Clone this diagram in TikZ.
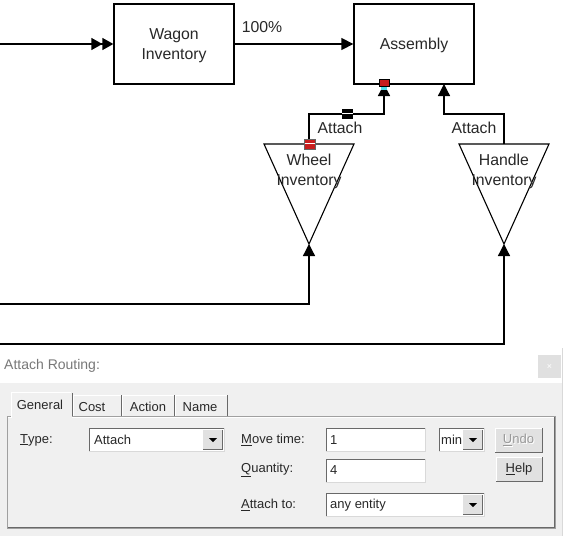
\documentclass[tikz,border=0pt]{standalone}
\usepackage{fontspec}
\setmainfont{Liberation Sans}
\usetikzlibrary{arrows.meta}
\definecolor{dlgbg}{RGB}{240,240,240}
\definecolor{btnbg}{RGB}{225,225,225}
\definecolor{edge}{RGB}{160,160,160}
\definecolor{dark}{RGB}{105,105,105}
\definecolor{titlegray}{RGB}{120,120,120}
\definecolor{mkred}{RGB}{200,30,30}
\definecolor{mkcyan}{RGB}{80,220,230}
\definecolor{txt}{RGB}{40,40,40}
\begin{document}
\begin{tikzpicture}[x=1pt,y=-1pt,
  dfont/.style={font=\fontsize{15.8}{20.5}\selectfont, text=txt},
  uifont/.style={font=\fontsize{13}{15}\selectfont, text=txt},
  box/.style={draw, line width=1.3pt, minimum width=120pt, minimum height=80pt, inner sep=0pt},
  conn/.style={line width=1.3pt},
  tip/.style={conn, -{Triangle[length=12pt,width=12pt]}},
  dbltip/.style={conn, -{Triangle[length=11pt,width=12pt]Triangle[length=11pt,width=12pt]}},
  inv/.style={draw, line width=1.1pt, line join=miter},
  lbl/.style={dfont, inner sep=0pt, align=center},
  ui/.style={uifont, inner sep=0pt, anchor=west},
]
\useasboundingbox (0,0) rectangle (563,536);
\fill[white] (0,0) rectangle (563,536);

% ---------- diagram ----------
\node[box] (wagon) at (174,44) {};
\node[box] (asm) at (414,44) {};
\node[lbl] (wagontxt) at (174,45.5) {Wagon\\Inventory};
\node[lbl] (asmtxt) at (414,45.5) {Assembly};
\coordinate (in1) at (0,44);
\draw[dbltip] (in1) -- (wagon.west);
\draw[tip] (wagon.east) -- (asm.west);
\node[lbl] (pct) at (262,27) {100\%};

% inventories (triangles)
\coordinate (wl) at (264,144); \coordinate (wr) at (354,144);
\coordinate (wtop) at (309,144); \coordinate (wapex) at (309,244);
\coordinate (hl) at (459,144); \coordinate (hr) at (549,144);
\coordinate (htop) at (504,144); \coordinate (hapex) at (504,244);
\draw[inv] (wl) -- (wr) -- (wapex) -- cycle;
\draw[inv] (hl) -- (hr) -- (hapex) -- cycle;
\node[lbl] (wheel) at (309,171.5) {Wheel\\Inventory};
\node[lbl] (handle) at (504,171.5) {Handle\\Inventory};

% attach routings
\coordinate (asmA) at (384,84); \coordinate (asmB) at (444,84);
\draw[tip] (wtop) |- (346,114) -| (asmA);
\draw[tip] (htop) |- (474,114) -| (asmB);
\node[lbl] (att1) at (340,128) {Attach};
\node[lbl] (att2) at (474,128) {Attach};

% inputs from the left
\coordinate (in2) at (0,304); \coordinate (in3) at (0,344);
\draw[tip] (in2) -| (wapex);
\draw[tip] (in3) -| (hapex);

% markers
\filldraw[fill=mkred, draw=black, line width=0.6pt] (379,79.5) rectangle (389,86.5);
\fill[mkcyan] (381,86.5) rectangle (387,90);
\filldraw[fill=mkred, draw=black!60, line width=0.6pt] (304,139) rectangle (315,149);
\draw[white, line width=0.8pt] (304.5,143.5) -- (314.5,143.5);
\fill[black] (342,108.5) rectangle (353,118.5);
\draw[white, line width=0.9pt] (342,113) -- (353,113);

% ---------- dialog ----------
\fill[white] (0,348) rectangle (563,383);
\fill[dlgbg] (0,383) rectangle (562,536);
\draw[black!15, line width=1pt] (562.5,348) -- (562.5,536);
\node[ui, text=titlegray, font=\fontsize{14}{16}\selectfont] (title) at (4,366) {Attach Routing:};
\fill[black!12] (538,355) rectangle (561,378);
\node[text=white, font=\fontsize{9}{10}\selectfont, inner sep=0pt] (close) at (549.5,366.5) {×};

% tab panel
\draw[edge, line width=1pt] (7,416) rectangle (555,528);
\draw[white, line width=1pt] (8,417) -- (554,417);
\draw[dark, line width=1pt] (8,527) -- (554,527) -- (554,417);
% tabs
\fill[dlgbg] (11,392) rectangle (72,418);
\draw[white, line width=1pt] (11,418) -- (11,392.5) -- (71,392.5);
\draw[dark, line width=1pt] (72,393) -- (72,416);
\draw[white, line width=1pt] (73,416) -- (73,395) -- (121,395);
\draw[dark, line width=1pt] (121,395) -- (121,416);
\draw[white, line width=1pt] (122,416) -- (122,395) -- (174,395);
\draw[dark, line width=1pt] (174,395) -- (174,416);
\draw[white, line width=1pt] (175,416) -- (175,395) -- (227,395);
\draw[dark, line width=1pt] (227,395) -- (227,416);
\node[uifont, inner sep=0pt] (tgen) at (40,405) {General};
\node[uifont, inner sep=0pt] (tcost) at (92,407) {Cost};
\node[uifont, inner sep=0pt] (tact) at (148,407) {Action};
\node[uifont, inner sep=0pt] (tname) at (200,407) {Name};

% Type
\node[ui] (ltype) at (20,440) {\underline{T}ype:};
\fill[white] (89,428) rectangle (224,451);
\draw[dark, line width=1pt] (89,451) -- (89,428) -- (224,428);
\draw[white!85!black, line width=1pt] (89,451) -- (224,451) -- (224,428);
\fill[btnbg] (203,430) rectangle (222,449);
\draw[dark, line width=0.8pt] (203,449) -- (222,449) -- (222,430);
\fill[black] (209,438) -- (217,438) -- (213,442) -- cycle;
\node[ui] (vtype) at (94,440) {Attach};

% Move time
\node[ui] (lmove) at (241,440) {\underline{M}ove time:};
\fill[white] (326,428) rectangle (425,451);
\draw[dark, line width=1pt] (326,451) -- (326,428) -- (425,428);
\draw[white!85!black, line width=1pt] (326,451) -- (425,451) -- (425,428);
\node[ui] (vmove) at (330,440) {1};
\fill[white] (439,428) rectangle (484,451);
\draw[dark, line width=1pt] (439,451) -- (439,428) -- (484,428);
\draw[white!85!black, line width=1pt] (439,451) -- (484,451) -- (484,428);
\fill[btnbg] (463,430) rectangle (482,449);
\draw[dark, line width=0.8pt] (463,449) -- (482,449) -- (482,430);
\fill[black] (469,438) -- (477,438) -- (473,442) -- cycle;
\node[ui] (vmin) at (441,440) {min};

% Undo / Help buttons
\fill[btnbg] (495,428) rectangle (542,452);
\draw[white, line width=1pt] (495,452) -- (495,428) -- (542,428);
\draw[dark, line width=1pt] (495,452) -- (542,452) -- (542,428);
\node[uifont, inner sep=0pt, text=white] (undoshadow) at (519.5,441) {\underline{U}ndo};
\node[uifont, inner sep=0pt, text=black!40] (undo) at (518.5,440) {\underline{U}ndo};
\fill[btnbg] (496,457) rectangle (542,481);
\draw[white, line width=1pt] (496,481) -- (496,457) -- (542,457);
\draw[dark, line width=1pt] (496,481) -- (542,481) -- (542,457);
\node[uifont, inner sep=0pt] (help) at (519,469) {\underline{H}elp};

% Quantity
\node[ui] (lqty) at (241,470) {\underline{Q}uantity:};
\fill[white] (326,459) rectangle (425,482);
\draw[dark, line width=1pt] (326,482) -- (326,459) -- (425,459);
\draw[white!85!black, line width=1pt] (326,482) -- (425,482) -- (425,459);
\node[ui] (vqty) at (330,470) {4};

% Attach to
\node[ui] (lto) at (241,505) {\underline{A}ttach to:};
\fill[white] (326,493) rectangle (484,516);
\draw[dark, line width=1pt] (326,516) -- (326,493) -- (484,493);
\draw[white!85!black, line width=1pt] (326,516) -- (484,516) -- (484,493);
\fill[btnbg] (463,495) rectangle (482,514);
\draw[dark, line width=0.8pt] (463,514) -- (482,514) -- (482,495);
\fill[black] (469,503) -- (477,503) -- (473,507) -- cycle;
\node[ui] (vto) at (330,505) {any entity};
\end{tikzpicture}
\end{document}
